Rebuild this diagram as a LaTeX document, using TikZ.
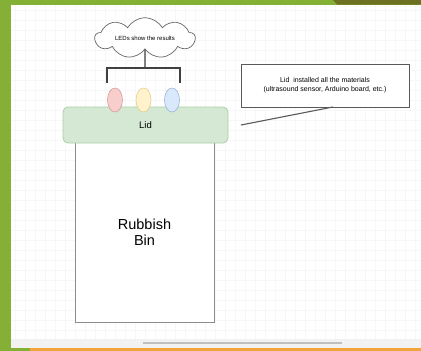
\documentclass[tikz,border=0pt]{standalone}
\usepackage{fontspec}
\setmainfont{Liberation Sans}
\usetikzlibrary{shapes.symbols,shapes.geometric}
\definecolor{frame}{HTML}{84B135}
\definecolor{olive}{HTML}{6E7022}
\definecolor{orangeline}{HTML}{F2A33A}
\definecolor{redf}{HTML}{F8CECC}\definecolor{redd}{HTML}{D79B98}
\definecolor{yelf}{HTML}{FFF2CC}\definecolor{yeld}{HTML}{E3CF8A}
\definecolor{bluf}{HTML}{DAE8FC}\definecolor{blud}{HTML}{9DB4D8}
\definecolor{lidf}{HTML}{D5E8D4}\definecolor{lidd}{HTML}{A9CFA3}
\tikzset{
  led/.style={ellipse, minimum width=15pt, minimum height=24pt, inner sep=0pt, line width=0.6pt},
  note/.style={draw=gray!70!black, line width=0.8pt, fill=white, align=center, font=\fontsize{7}{9}\selectfont, inner sep=0pt},
  wire/.style={draw=black!75, line width=1.3pt},
  gridline/.style={draw=black!3, line width=0.3pt},
}
\begin{document}
\begin{tikzpicture}[x=1pt,y=-1pt]
\useasboundingbox (0,0) rectangle (421,351);
% canvas and grid
\fill[white] (0,0) rectangle (421,351);
\foreach \gx in {15,25,...,415} \draw[gridline] (\gx,4) -- (\gx,339);
\foreach \gy in {10,20,...,330} \draw[gridline] (11,\gy) -- (421,\gy);
% window frame
\fill[frame] (0,0) rectangle (11,351);
\fill[frame] (0,0) rectangle (421,4.5);
\fill[olive] (333,0) -- (421,0) -- (421,4.5) -- (337,4.5) -- cycle;
\fill[black!5] (11,339) rectangle (421,348);
\fill[black!25] (143,341.5) rectangle (342,343.5);
\fill[orangeline] (30,348) rectangle (421,351);
\fill[frame] (0,348) rectangle (30,351);

% bin and lid
\node[draw=black!45, line width=0.9pt, fill=white, minimum width=139pt, minimum height=180pt, inner sep=0pt,
      align=center, font=\fontsize{14.5}{16.5}\selectfont] (bin) at (144.5,232) {Rubbish\\Bin};
\node[draw=lidd, fill=lidf, rounded corners=5pt, line width=0.8pt, minimum width=165pt, minimum height=36pt, inner sep=0pt,
      font=\fontsize{9.5}{10}\selectfont] (lid) at (145.5,125) {Lid};

% LEDs
\node[led, draw=redd, fill=redf] (ledr) at (115,100) {};
\node[led, draw=yeld, fill=yelf] (ledy) at (143.5,100) {};
\node[led, draw=blud, fill=bluf] (ledb) at (172,100) {};

% cloud label
\node[cloud, draw=black!60, fill=white, line width=0.7pt, cloud puffs=9, cloud puff arc=120, aspect=3.3,
      minimum width=100pt, minimum height=30pt, inner sep=0pt, font=\fontsize{6}{7}\selectfont] (cloud) at (145,38) {LEDs show the results};

% bracket from the cloud to the LEDs
\coordinate (bl) at (107,68);
\coordinate (br) at (180,68);
\coordinate (bm) at (145,68);
\coordinate (bl2) at (107,83);
\coordinate (br2) at (180,83);
\draw[wire] (cloud.south) -- (bm);
\draw[wire] (bl2) -- (bl) -- (br) -- (br2);

% callout
\node[note, minimum width=168pt, minimum height=43pt] (note) at (325,85.5) {Lid~ installed all the materials\\(ultrasound sensor, Arduino board, etc.)};
\coordinate (tip) at (241,125);
\coordinate (root) at (333,107);
\draw[black!65, line width=1.1pt] (root) -- (tip);
\end{tikzpicture}
\end{document}
